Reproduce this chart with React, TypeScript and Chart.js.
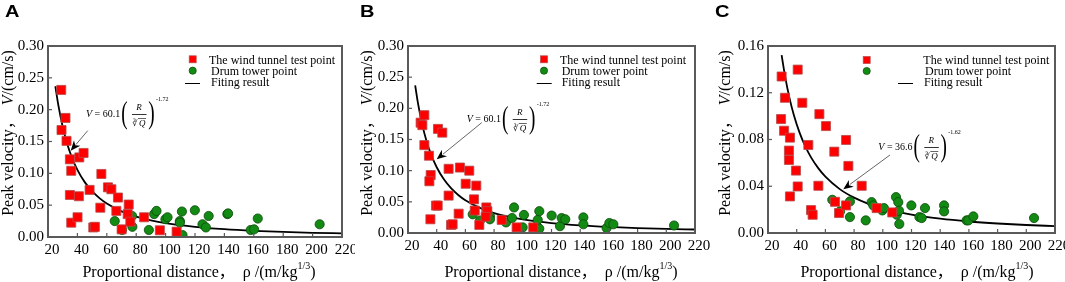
import React, { useEffect, useRef } from "react";
import { Chart, registerables } from "chart.js";
Chart.register(...registerables);

const SERIF = '"Liberation Serif", "Times New Roman", "Noto Sans CJK SC", serif';

// ---------- Panel A data ----------
const aTunnelRho = [29.0, 31.9, 29.2, 32.6, 34.9, 41.3, 44.2, 35.8, 34.9, 41.0, 35.8, 40.1, 48.3, 56.3, 60.8, 63.1, 55.6, 50.8, 51.9, 67.6, 66.5, 74.9, 74.2, 76.0, 70.1, 85.4, 96.1, 107.5];
const aTunnelV = [0.231, 0.187, 0.168, 0.151, 0.122, 0.125, 0.132, 0.104, 0.066, 0.064, 0.0225, 0.031, 0.074, 0.099, 0.078, 0.075, 0.046, 0.015, 0.016, 0.062, 0.041, 0.051, 0.036, 0.024, 0.012, 0.031, 0.0105, 0.0084];
const aDrumRho = [65.4, 70.4, 77.4, 77.2, 88.6, 92.2, 93.8, 99.9, 101.3, 109.7, 111.1, 109.7, 111.5, 119.9, 125.1, 127.4, 129.3, 142.0, 142.5, 157.9, 160.2, 162.7, 204.8];
const aDrumV = [0.025, 0.011, 0.016, 0.033, 0.011, 0.036, 0.041, 0.028, 0.031, 0.025, 0.040, 0.0225, 0.003, 0.042, 0.020, 0.015, 0.033, 0.036, 0.037, 0.011, 0.012, 0.029, 0.020];

// ---------- Panel B data ----------
const bTunnelRho = [28.8, 30.0, 31.4, 31.4, 34.6, 35.8, 34.9, 35.6, 39.5, 40.7, 40.9, 43.9, 48.3, 48.3, 50.0, 51.1, 56.2, 55.3, 62.7, 60.2, 67.6, 66.0, 66.5, 69.7, 74.6, 75.3, 74.1, 85.3, 95.7, 107.3];
const bTunnelV = [0.177, 0.173, 0.189, 0.141, 0.124, 0.093, 0.083, 0.022, 0.044, 0.044, 0.167, 0.161, 0.103, 0.060, 0.013, 0.014, 0.105, 0.031, 0.100, 0.079, 0.076, 0.054, 0.036, 0.013, 0.041, 0.035, 0.026, 0.021, 0.009, 0.009];
const bDrumRho = [65.1, 70.2, 77.1, 77.1, 88.3, 92.5, 93.9, 99.9, 100.8, 109.7, 110.4, 111.5, 111.5, 120.1, 125.9, 127.1, 129.6, 142.2, 142.2, 158.4, 160.3, 163.1, 205.4];
const bDrumV = [0.030, 0.020, 0.027, 0.022, 0.017, 0.024, 0.041, 0.009, 0.029, 0.011, 0.021, 0.035, 0.007, 0.028, 0.011, 0.024, 0.022, 0.025, 0.014, 0.008, 0.016, 0.014, 0.012];

// ---------- Panel C data ----------
const cTunnelRho = [29.5, 40.7, 31.8, 43.9, 29.1, 31.2, 35.3, 34.6, 34.6, 48.1, 55.8, 60.4, 66.2, 74.4, 76.0, 39.5, 40.7, 55.1, 85.3, 35.3, 50.0, 51.1, 66.7, 69.5, 74.4, 95.7, 106.6];
const cTunnelV = [0.1339, 0.1398, 0.1157, 0.1114, 0.0975, 0.0875, 0.0816, 0.0705, 0.0625, 0.0753, 0.1017, 0.0915, 0.0696, 0.0796, 0.0574, 0.0534, 0.0398, 0.0404, 0.0404, 0.0313, 0.0196, 0.0156, 0.0267, 0.0171, 0.0236, 0.0213, 0.0176];
const cDrumRho = [64.8, 70.2, 77.1, 77.1, 88.1, 92.2, 93.4, 99.7, 100.8, 109.2, 110.8, 109.7, 111.3, 111.5, 119.9, 125.5, 127.1, 129.4, 142.7, 142.7, 158.4, 159.6, 163.1, 205.4];
const cDrumV = [0.0284, 0.0185, 0.0270, 0.0136, 0.0108, 0.0264, 0.0236, 0.0193, 0.0213, 0.0307, 0.0264, 0.0156, 0.0190, 0.0077, 0.0236, 0.0136, 0.0128, 0.0213, 0.0236, 0.0185, 0.0108, 0.0108, 0.0142, 0.0128];

// ---------- Fitted curves ----------
const fitABRho = [25, 27, 30, 33, 36, 40, 45, 50, 55, 60, 70, 80, 90, 100, 120, 140, 160, 180, 200, 220];
const fitABV = [0.2368, 0.2075, 0.1731, 0.1469, 0.1265, 0.1055, 0.0862, 0.0719, 0.0610, 0.0525, 0.0403, 0.0320, 0.02616, 0.02182, 0.01595, 0.01223, 0.00972, 0.00794, 0.00662, 0.00562];
const fitCRho = [29.5, 32, 35, 38, 42, 46, 50, 55, 60, 70, 80, 90, 100, 120, 140, 160, 180, 200, 220];
const fitCV = [0.1522, 0.1334, 0.1154, 0.1010, 0.0859, 0.0741, 0.0647, 0.0555, 0.0482, 0.03753, 0.03023, 0.02498, 0.02106, 0.01568, 0.01221, 0.00984, 0.00813, 0.00685, 0.00587];

// ---------- Axis settings ----------
const xMin = 20, xMax = 220, xStep = 20;
const yMaxAB = 0.30, yStepAB = 0.05;
const yMaxC = 0.16, yStepC = 0.04;

// ---------- Texts ----------
const legendLabels = ["The wind tunnel test point", "Drum tower point", "Fiting result"];
const xTitleMain = "Proportional distance，  ρ /(m/kg";
const xTitleSup = "1/3";
const yTitleParts = ["Peak velocity，  ", "V", "/(cm/s)"];
const formulaCoefs = ["60.1", "60.1", "36.6"];
const formulaExps = ["-1.72", "-1.72", "-1.62"];
const panelLetters = ["A", "B", "C"];

type Panel = {
  letter: string;
  tRho: number[]; tV: number[]; dRho: number[]; dV: number[]; fRho: number[]; fV: number[];
  yMax: number; yStep: number;
  area: { l: number; r: number; t: number; b: number };
  letterX: number;
  xTitleCx: number;
  yTitleCx: number;
  yTitleCy: number;
  leg: { mx: number; lx1: number; lx2: number; tx: number[]; ty: number[]; my: number[] };
  formula: { x: number; y: number; coef: string; exp: string };
  arrow: { x1: number; y1: number; x2: number; y2: number };
};

const W = 355, H = 282;

const panels: Panel[] = [
  {
    letter: panelLetters[0],
    tRho: aTunnelRho, tV: aTunnelV, dRho: aDrumRho, dV: aDrumV, fRho: fitABRho, fV: fitABV,
    yMax: yMaxAB, yStep: yStepAB,
    area: { l: 48, r: 342, t: 46, b: 237 },
    letterX: 5, xTitleCx: 199, yTitleCx: 9, yTitleCy: 133,
    leg: { mx: 192.7, lx1: 185, lx2: 200, tx: [209, 211, 211], ty: [60.7, 71.7, 83.3], my: [59.3, 70.7, 82.7] },
    formula: { x: 86, y: 114, coef: formulaCoefs[0], exp: formulaExps[0] },
    arrow: { x1: 87.7, y1: 130.7, x2: 70.7, y2: 150.7 },
  },
  {
    letter: panelLetters[1],
    tRho: bTunnelRho, tV: bTunnelV, dRho: bDrumRho, dV: bDrumV, fRho: fitABRho, fV: fitABV,
    yMax: yMaxAB, yStep: yStepAB,
    area: { l: 53, r: 340, t: 46, b: 233 },
    letterX: 5, xTitleCx: 206, yTitleCx: 12.5, yTitleCy: 133,
    leg: { mx: 189, lx1: 181.7, lx2: 196.7, tx: [205, 206.7, 206.7], ty: [61, 71.7, 83.3], my: [59.3, 70.7, 82.7] },
    formula: { x: 111.7, y: 119, coef: formulaCoefs[1], exp: formulaExps[1] },
    arrow: { x1: 126.7, y1: 122.7, x2: 81.7, y2: 159.3 },
  },
  {
    letter: panelLetters[2],
    tRho: cTunnelRho, tV: cTunnelV, dRho: cDrumRho, dV: cDrumV, fRho: fitCRho, fV: fitCV,
    yMax: yMaxC, yStep: yStepC,
    area: { l: 58, r: 345, t: 46, b: 233 },
    letterX: 5, xTitleCx: 207, yTitleCx: 16, yTitleCy: 133,
    leg: { mx: 156.7, lx1: 188, lx2: 203, tx: [213.3, 215, 214], ty: [61, 71.7, 83.3], my: [60, 71, 82.7] },
    formula: { x: 168.3, y: 147, coef: formulaCoefs[2], exp: formulaExps[2] },
    arrow: { x1: 180, y1: 155, x2: 133.3, y2: 189.3 },
  },
];

const RED = "#ff0000";
const RED_EDGE = "#b84a4a";
const GREEN = "#138a13";
const GREEN_EDGE = "#0a4a0a";
const BOX = "#5a5a5a";

function pts(xs: number[], ys: number[]) {
  return xs.map((x, i) => ({ x, y: ys[i] }));
}

function drawFormula(ctx: CanvasRenderingContext2D, x0: number, y0: number, coef: string, exp: string) {
  ctx.save();
  ctx.fillStyle = "#000";
  ctx.textBaseline = "middle";
  ctx.textAlign = "left";
  ctx.font = `italic 10px ${SERIF}`;
  ctx.fillText("V", x0, y0);
  const wv = ctx.measureText("V").width;
  ctx.font = `10px ${SERIF}`;
  ctx.fillText(" = " + coef, x0 + wv, y0);
  const paren = (ch: string, cx: number) => {
    ctx.save();
    ctx.translate(cx, y0 + 1);
    ctx.scale(0.6, 1);
    ctx.font = `32px ${SERIF}`;
    ctx.textAlign = "center";
    ctx.textBaseline = "middle";
    ctx.fillText(ch, 0, 0);
    ctx.restore();
  };
  paren("(", x0 + 38.5);
  paren(")", x0 + 65.5);
  ctx.textAlign = "center";
  ctx.font = `italic 9px ${SERIF}`;
  ctx.fillText("R", x0 + 53, y0 - 6);
  ctx.fillRect(x0 + 46, y0, 14.5, 0.8);
  ctx.font = `8px "DejaVu Serif", serif`;
  ctx.textAlign = "left";
  ctx.fillText("∛", x0 + 46.5, y0 + 9.5);
  ctx.font = `italic 9px ${SERIF}`;
  ctx.fillText("Q", x0 + 53, y0 + 9.5);
  ctx.fillRect(x0 + 52, y0 + 4, 8, 0.6);
  ctx.font = `6px ${SERIF}`;
  ctx.fillText(exp, x0 + 70, y0 - 15);
  ctx.restore();
}

function drawArrow(ctx: CanvasRenderingContext2D, x1: number, y1: number, x2: number, y2: number) {
  ctx.save();
  const ang = Math.atan2(y2 - y1, x2 - x1);
  const hl = 10, hw = 4.2;
  const bx = x2 - hl * Math.cos(ang), by = y2 - hl * Math.sin(ang);
  ctx.strokeStyle = "#555";
  ctx.lineWidth = 0.9;
  ctx.beginPath();
  ctx.moveTo(x1, y1);
  ctx.lineTo(bx + 2 * Math.cos(ang), by + 2 * Math.sin(ang));
  ctx.stroke();
  ctx.fillStyle = "#000";
  ctx.beginPath();
  ctx.moveTo(x2, y2);
  ctx.lineTo(bx + hw * Math.sin(ang), by - hw * Math.cos(ang));
  ctx.lineTo(bx + 3 * Math.cos(ang), by + 3 * Math.sin(ang));
  ctx.lineTo(bx - hw * Math.sin(ang), by + hw * Math.cos(ang));
  ctx.closePath();
  ctx.fill();
  ctx.restore();
}

function drawDecor(chart: Chart, p: Panel) {
  const ctx = chart.ctx;
  ctx.save();

  // plot frame (all four sides) and inner tick marks, placed through the chart's own scales
  const xs: any = chart.scales.x;
  const ys: any = chart.scales.y;
  const l = Math.round(xs.getPixelForValue(xMin));
  const r = Math.round(xs.getPixelForValue(xMax));
  const t = Math.round(ys.getPixelForValue(p.yMax));
  const b = Math.round(ys.getPixelForValue(0));
  ctx.globalAlpha = 1;
  ctx.globalCompositeOperation = "source-over";
  ctx.fillStyle = BOX;
  ctx.fillRect(l - 1, t - 1, r - l + 2, 2);
  ctx.fillRect(l - 1, b - 1, r - l + 2, 2);
  ctx.fillRect(l - 1, t - 1, 2, b - t + 2);
  ctx.fillRect(r - 1, t - 1, 2, b - t + 2);
  (xs.ticks || []).forEach((tk: any) => {
    const x = xs.getPixelForValue(tk.value);
    ctx.fillRect(x - 0.6, b - 4, 1.2, 3.5);
  });
  (ys.ticks || []).forEach((tk: any) => {
    const y = ys.getPixelForValue(tk.value);
    ctx.fillRect(l + 0.5, y - 0.6, 3.5, 1.2);
  });

  // panel letter
  ctx.save();
  ctx.translate(p.letterX, 16.7);
  ctx.scale(1.25, 1);
  ctx.fillStyle = "#000";
  ctx.font = 'bold 16px "Liberation Sans", Arial, sans-serif';
  ctx.textBaseline = "alphabetic";
  ctx.textAlign = "left";
  ctx.fillText(p.letter, 0, 0);
  ctx.restore();

  // x title
  ctx.fillStyle = "#000";
  ctx.textBaseline = "middle";
  ctx.textAlign = "left";
  const big = `16px ${SERIF}`;
  const small = `10px ${SERIF}`;
  ctx.font = big;
  const w1 = ctx.measureText(xTitleMain).width;
  const w3 = ctx.measureText(")").width;
  ctx.font = small;
  const w2 = ctx.measureText(xTitleSup).width;
  let x = p.xTitleCx - (w1 + w2 + w3) / 2;
  const cy = 272.5;
  ctx.font = big;
  ctx.fillText(xTitleMain, x, cy);
  x += w1;
  ctx.font = small;
  ctx.fillText(xTitleSup, x, cy - 6);
  x += w2;
  ctx.font = big;
  ctx.fillText(")", x, cy);

  // y title
  ctx.save();
  ctx.translate(p.yTitleCx, p.yTitleCy);
  ctx.rotate(-Math.PI / 2);
  const fonts = [big, `italic 16px ${SERIF}`, big];
  const widths = yTitleParts.map((s, i) => {
    ctx.font = fonts[i];
    return ctx.measureText(s).width;
  });
  let yx = -widths.reduce((a, c) => a + c, 0) / 2;
  yTitleParts.forEach((s, i) => {
    ctx.font = fonts[i];
    ctx.fillText(s, yx, 0);
    yx += widths[i];
  });
  ctx.restore();

  // legend
  const L = p.leg;
  ctx.fillStyle = RED;
  ctx.strokeStyle = RED_EDGE;
  ctx.lineWidth = 0.7;
  ctx.fillRect(L.mx - 3.5, L.my[0] - 3.5, 7, 7);
  ctx.strokeRect(L.mx - 3.5, L.my[0] - 3.5, 7, 7);
  ctx.fillStyle = GREEN;
  ctx.strokeStyle = GREEN_EDGE;
  ctx.beginPath();
  ctx.arc(L.mx, L.my[1], 3.6, 0, Math.PI * 2);
  ctx.fill();
  ctx.stroke();
  ctx.fillStyle = "#000";
  ctx.fillRect(L.lx1, Math.round(L.my[2]), L.lx2 - L.lx1, 1);
  ctx.font = `12px ${SERIF}`;
  ctx.textBaseline = "middle";
  legendLabels.forEach((s, i) => ctx.fillText(s, L.tx[i], L.ty[i]));

  drawFormula(ctx, p.formula.x, p.formula.y, p.formula.coef, p.formula.exp);
  drawArrow(ctx, p.arrow.x1, p.arrow.y1, p.arrow.x2, p.arrow.y2);
  ctx.restore();
}

function PanelChart({ p }: { p: Panel }) {
  const ref = useRef<HTMLCanvasElement>(null);
  useEffect(() => {
    if (!ref.current) return;
    const tickFont = { family: SERIF, size: 15 };
    const chart = new Chart(ref.current, {
      type: "scatter",
      data: {
        datasets: [
          {
            label: legendLabels[0],
            data: pts(p.tRho, p.tV),
            pointStyle: "rect",
            pointRadius: 6.4,
            backgroundColor: RED,
            borderColor: RED_EDGE,
            borderWidth: 0.8,
          },
          {
            label: legendLabels[1],
            data: pts(p.dRho, p.dV),
            pointStyle: "circle",
            pointRadius: 4.6,
            backgroundColor: GREEN,
            borderColor: GREEN_EDGE,
            borderWidth: 0.8,
          },
          {
            label: legendLabels[2],
            data: pts(p.fRho, p.fV),
            showLine: true,
            pointRadius: 0,
            borderColor: "#000",
            borderWidth: 1.8,
            cubicInterpolationMode: "monotone",
            fill: false,
          } as any,
        ],
      },
      options: {
        animation: false,
        responsive: false,
        devicePixelRatio: 1,
        layout: { padding: { left: 0, top: p.area.t, right: W - p.area.r, bottom: 0 } },
        plugins: { legend: { display: false }, tooltip: { enabled: false } },
        scales: {
          x: {
            type: "linear",
            position: "bottom",
            min: xMin,
            max: xMax,
            grid: { display: false, drawTicks: false },
            border: { display: false },
            ticks: {
              stepSize: xStep,
              autoSkip: false,
              maxRotation: 0,
              color: "#000",
              font: tickFont,
              padding: 4,
              labelOffset: 4,
            },
            afterFit: (s: any) => {
              s.height = H - p.area.b;
              s.paddingLeft = 0;
              s.paddingRight = 0;
            },
          },
          y: {
            type: "linear",
            position: "left",
            min: 0,
            max: p.yMax,
            grid: { display: false, drawTicks: false },
            border: { display: false },
            ticks: {
              stepSize: p.yStep,
              color: "#000",
              font: tickFont,
              padding: 4,
              callback: (v: any) => Number(v).toFixed(2),
            },
            afterFit: (s: any) => {
              s.width = p.area.l;
              s.paddingTop = 0;
              s.paddingBottom = 0;
            },
          },
        } as any,
      },
      plugins: [
        {
          id: "decor",
          afterDraw: (c: Chart) => drawDecor(c, p),
        },
      ],
    });
    return () => chart.destroy();
  }, []);
  return (
    <div style={{ width: W, height: H, flex: "0 0 auto", position: "relative" }}>
      <canvas ref={ref} width={W} height={H} style={{ display: "block", width: W, height: H }} />
    </div>
  );
}

export default function App() {
  return (
    <div
      style={{
        position: "absolute",
        left: 0,
        top: 0,
        width: 1065,
        height: 282,
        background: "#fff",
        overflow: "hidden",
        display: "flex",
        flexDirection: "row",
      }}
    >
      {panels.map((p) => (
        <PanelChart key={p.letter} p={p} />
      ))}
    </div>
  );
}
